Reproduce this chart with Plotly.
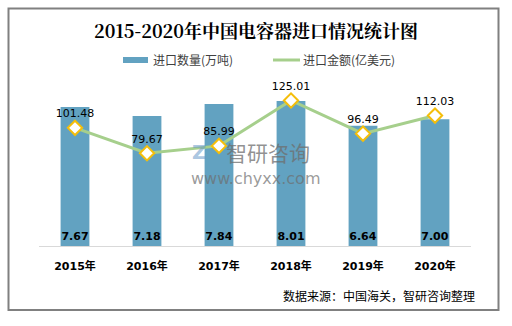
import plotly.graph_objects as go

years = ["2015年", "2016年", "2017年", "2018年", "2019年", "2020年"]
volume = [7.67, 7.18, 7.84, 8.01, 6.64, 7.00]
amount = [101.48, 79.67, 85.99, 125.01, 96.49, 112.03]
legend_names = ["进口数量(万吨)", "进口金额(亿美元)"]

L, R, T, B = 39, 471, 83, 246
W, H = 512, 326
BAR_COLOR = "#62A2C1"
LINE_COLOR = "#A6CF8C"
MARK_COLOR = "#F5BE0A"


def px(x):
    return (x - L) / (R - L)


def py(y):
    return (B - y) / (B - T)


fig = go.Figure()
fig.add_trace(go.Bar(
    x=years, y=volume, name=legend_names[0],
    marker=dict(color=BAR_COLOR, line=dict(width=0)),
    width=0.4,
    text=[f"{v:.2f}" for v in volume], textposition="inside",
    insidetextanchor="start", textangle=0,
    textfont=dict(family="DejaVu Sans", size=11, color="#000000", weight="bold"),
    cliponaxis=False, showlegend=False,
))
fig.add_trace(go.Scatter(
    x=years, y=amount, name=legend_names[1], yaxis="y2",
    mode="lines+markers+text",
    line=dict(color=LINE_COLOR, width=3),
    marker=dict(symbol="diamond", size=11, color="#FFFFFF",
                line=dict(color=MARK_COLOR, width=2)),
    text=[f"{v:.2f}" for v in amount], textposition="top center",
    textfont=dict(family="DejaVu Sans", size=11, color="#000000"),
    cliponaxis=False, showlegend=False,
))

fig.add_trace(go.Scatter(
    x=[286.5], y=[60], xaxis="x3", yaxis="y3", mode="markers",
    marker=dict(symbol="diamond", size=8, color="#FFFFFF", line=dict(color=MARK_COLOR, width=2)),
    showlegend=False, hoverinfo="skip", cliponaxis=False,
))

fig.update_layout(
    width=W, height=H,
    margin=dict(l=L, r=W - R, t=T, b=H - B),
    paper_bgcolor="white", plot_bgcolor="white",
    uniformtext=dict(minsize=11, mode="show"),
    title=dict(text="<b>2015-2020年中国电容器进口情况统计图</b>",
               x=0.5, xanchor="center", y=1 - 32 / H, yanchor="middle",
               font=dict(family="Noto Serif CJK SC, Noto Sans CJK SC, serif", size=18, color="#000000")),
    showlegend=False,
    xaxis=dict(showline=True, linecolor="#D9D9D9", linewidth=1, ticks="",
               ticklabelstandoff=10,
               tickfont=dict(family="DejaVu Sans, Noto Sans CJK SC", size=11, color="#000000", weight="bold")),
    yaxis=dict(range=[0, 9], visible=False, showgrid=False),
    yaxis2=dict(range=[0, 140], visible=False, showgrid=False, overlaying="y", side="right"),
    xaxis3=dict(range=[L, R], visible=False, overlaying="x", showgrid=False),
    yaxis3=dict(range=[B, T], visible=False, overlaying="y", showgrid=False),
    bargap=0.6,
    shapes=[
        dict(type="rect", xref="paper", yref="paper",
             x0=px(8.5), x1=px(498.5), y0=py(310), y1=py(8.5),
             line=dict(color="#808080", width=2), fillcolor="rgba(0,0,0,0)", layer="below"),
        dict(type="rect", xref="paper", yref="paper",
             x0=px(123), x1=px(148), y0=py(63), y1=py(57),
             line=dict(width=0), fillcolor=BAR_COLOR),
        dict(type="line", xref="paper", yref="paper",
             x0=px(273), x1=px(300), y0=py(60), y1=py(60),
             line=dict(color=LINE_COLOR, width=3)),
    ],
    annotations=[
        dict(text=legend_names[0], xref="paper", yref="paper",
             x=px(151), y=py(60), xanchor="left", yanchor="middle", showarrow=False,
             font=dict(family="Noto Sans CJK SC", size=12, color="#404040")),
        dict(text=legend_names[1], xref="paper", yref="paper",
             x=px(301), y=py(60), xanchor="left", yanchor="middle", showarrow=False,
             font=dict(family="Noto Sans CJK SC", size=12, color="#404040")),
        dict(text="数据来源：中国海关，智研咨询整理", xref="paper", yref="paper",
             x=px(477), y=py(295), xanchor="right", yanchor="middle", showarrow=False,
             font=dict(family="Noto Sans CJK SC", size=12, color="#000000")),
        dict(text="智研咨询", xref="paper", yref="paper",
             x=px(268), y=py(152), xanchor="center", yanchor="middle", showarrow=False,
             font=dict(family="Noto Sans CJK SC", size=21, color="rgba(110,110,110,0.75)")),
        dict(text="www.chyxx.com", xref="paper", yref="paper",
             x=px(256), y=py(178), xanchor="center", yanchor="middle", showarrow=False,
             font=dict(family="DejaVu Sans", size=16, color="rgba(110,110,110,0.7)")),
        dict(text="<b>Z</b>", xref="paper", yref="paper",
             x=px(199), y=py(152), xanchor="center", yanchor="middle", showarrow=False,
             font=dict(family="DejaVu Sans", size=20, color="rgba(100,150,200,0.55)")),
    ],
)

fig.write_html("out.html")
